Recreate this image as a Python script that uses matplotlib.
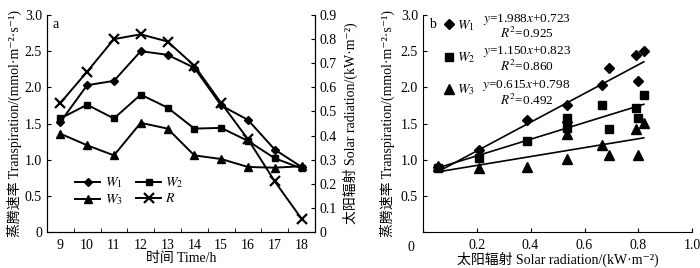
import numpy as np
import matplotlib
matplotlib.use('Agg')
import matplotlib.pyplot as plt
from matplotlib.lines import Line2D

plt.rcParams['font.family'] = ['Liberation Serif', 'Noto Sans CJK SC', 'DejaVu Serif']
plt.rcParams['mathtext.fontset'] = 'stix'
plt.rcParams['font.size'] = 10

# data
hours = [9, 10, 11, 12, 13, 14, 15, 16, 17, 18]
w1 = [1.52, 2.03, 2.09, 2.50, 2.45, 2.27, 1.75, 1.55, 1.14, 0.90]
w2 = [1.57, 1.76, 1.57, 1.90, 1.72, 1.43, 1.44, 1.26, 1.02, 0.88]
w3 = [1.36, 1.20, 1.06, 1.51, 1.43, 1.06, 1.01, 0.90, 0.89, 0.91]
rad = [0.535, 0.665, 0.80, 0.82, 0.79, 0.69, 0.535, 0.385, 0.21, 0.055]

# regression coefficients (slope, intercept, R2)
fits = {'W1': (1.988, 0.723, 0.925), 'W2': (1.150, 0.823, 0.860), 'W3': (0.615, 0.798, 0.492)}

trans_label = '蒸腾速率 Transpiration/(mmol·m⁻²·s⁻¹)'
rad_label = '太阳辐射 Solar radiation/(kW·m⁻²)'

fig = plt.figure(figsize=(7.0, 2.68), dpi=100)
ax = fig.add_axes([0.067, 0.134, 0.383, 0.81])
ax2 = ax.twinx()

lw = 1.4
ax.plot(hours, w1, '-D', color='k', lw=lw, ms=4.5, label='$W_1$')
ax.plot(hours, w2, '-s', color='k', lw=lw, ms=5, label='$W_2$')
ax.plot(hours, w3, '-^', color='k', lw=lw, ms=5.5, label='$W_3$')
ax2.plot(hours, rad, '-x', color='k', lw=lw, ms=7, mew=1.6, label='$R$')

ax.set_xlim(8.5, 18.5)
ax.set_ylim(0, 3.0)
ax2.set_ylim(0, 0.9)
ax.set_xticks(hours)
ax.set_xticks(np.arange(9.5, 18.5, 1.0), minor=True)
ax.tick_params(axis='x', which='major', length=0, pad=5)
ax.tick_params(axis='x', which='minor', direction='in', length=3)
ax.set_yticks(np.arange(0, 3.01, 0.5))
ax.set_yticklabels(['0'] + ['%.1f' % v for v in np.arange(0.5, 3.01, 0.5)])
ax.tick_params(axis='y', direction='in', length=3)
ax2.set_yticks(np.arange(0, 0.91, 0.1))
ax2.set_yticklabels(['0'] + ['%.1f' % v for v in np.arange(0.1, 0.91, 0.1)])
ax2.tick_params(axis='y', direction='in', length=3)
for a in (ax, ax2):
    a.spines['top'].set_visible(False)
ax.set_xlabel('时间 Time/h', labelpad=0)
ax.set_ylabel(trans_label, labelpad=2)
ax2.set_ylabel(rad_label, labelpad=4)
ax.text(0.02, 0.985, 'a', transform=ax.transAxes, va='top', ha='left')

h1, l1 = ax.get_legend_handles_labels()
h2, l2 = ax2.get_legend_handles_labels()
hs = [h1[0], h1[2], h1[1], h2[0]]
ls = [l1[0], l1[2], l1[1], l2[0]]
ax.legend(hs, ls, ncol=2, loc='lower left', bbox_to_anchor=(0.07, 0.07), frameon=False,
          handlelength=1.8, handletextpad=0.3, columnspacing=1.0, labelspacing=0.15,
          borderpad=0.2)

# panel b
bx = fig.add_axes([0.604, 0.134, 0.385, 0.81])
series = [('W1', w1, 'D', 5), ('W2', w2, 's', 6), ('W3', w3, '^', 6.5)]
xr = np.array(rad)
handles = []
for name, ys, mk, ms in series:
    bx.plot(rad, ys, mk, color='k', ms=ms, ls='none')
    k, b, r2 = fits[name]
    xx = np.array([xr.min(), xr.max()])
    bx.plot(xx, k * xx + b, '-', color='k', lw=1.2)
    handles.append(Line2D([], [], marker=mk, color='k', ls='none', ms=ms,
                          label='$W_%s$' % name[1]))
bx.set_xlim(0, 1.0)
bx.set_ylim(0, 3.0)
bx.set_xticks(np.arange(0, 1.01, 0.2))
bx.set_xticklabels([''] + ['%.1f' % v for v in np.arange(0.2, 1.01, 0.2)])
bx.set_yticks(np.arange(0, 3.01, 0.5))
bx.set_yticklabels([''] + ['%.1f' % v for v in np.arange(0.5, 3.01, 0.5)])
bx.tick_params(direction='in', length=3)
bx.tick_params(axis='x', pad=5)
bx.spines['top'].set_visible(False)
bx.spines['right'].set_visible(False)
bx.text(-0.03, -0.04, '0', transform=bx.transAxes, ha='right', va='top')
bx.set_xlabel(rad_label, labelpad=0)
bx.set_ylabel(trans_label, labelpad=4)
bx.text(0.025, 0.985, 'b', transform=bx.transAxes, va='top', ha='left')
bx.legend(handles=handles, loc='upper left', bbox_to_anchor=(0.04, 1.03), frameon=False,
          handlelength=0.8, handletextpad=0.2, labelspacing=1.25, borderpad=0.2)

eq_y = [0.98, 0.83, 0.673]
for (name, _, _, _), yy in zip(series, eq_y):
    k, b, r2 = fits[name]
    bx.text(0.385, yy, '$y$=%.3f$x$+%.3f' % (k, b), transform=bx.transAxes,
            ha='center', va='center', fontsize=9.5)
    bx.text(0.385, yy - 0.066, '$R^2$=%.3f' % r2, transform=bx.transAxes,
            ha='center', va='center', fontsize=9.5)

fig.savefig('out.png', dpi=100)
